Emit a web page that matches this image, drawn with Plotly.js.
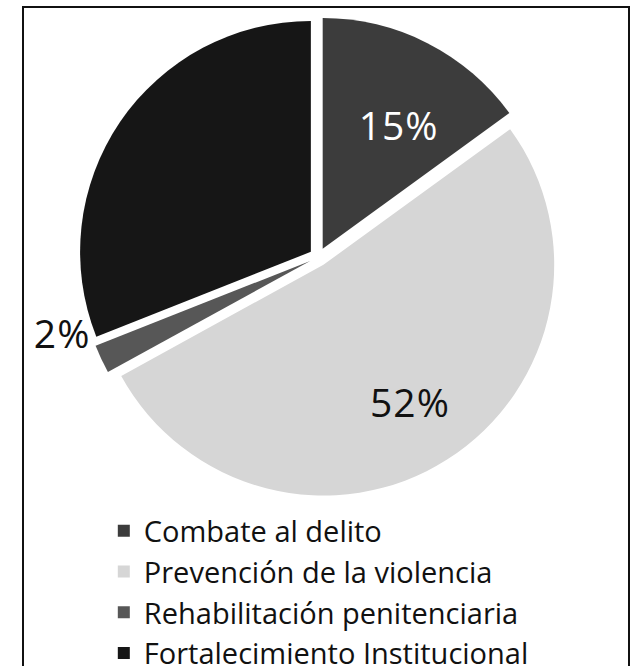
<!DOCTYPE html>
<html>
<head>
<meta charset="utf-8">
<script src="https://cdn.plot.ly/plotly-3.0.1.min.js"></script>
<style>
html,body{margin:0;padding:0;background:#fff;}
#chart{width:633px;height:666px;}
#chart text.slicetext{letter-spacing:1px;}
</style>
</head>
<body>
<div id="chart"></div>
<script>
const categories = ["Combate al delito", "Prevención de la violencia", "Rehabilitación penitenciaria", "Fortalecimiento Institucional"];
const values = [15, 52, 2, 31];
const percentLabels = ["15%", "52%", "2%", ""];
const sliceColors = ["#3c3c3c", "#d6d6d6", "#575757", "#161616"];
const labelColors = ["#ffffff", "#111111", "#111111", "#111111"];

const FONT = "'Open Sans', Lato, sans-serif";
const pieDomain = {x: [0.124, 0.8823], y: [0.2538, 0.9745]};

function shiftDomain(d, dx, dy) {
  return {x: [d.x[0] + dx, d.x[1] + dx], y: [d.y[0] + dy, d.y[1] + dy]};
}

const slices = {
  type: "pie",
  labels: categories,
  values: values,
  textinfo: "none",
  sort: false,
  direction: "clockwise",
  rotation: 0,
  pull: 0.04,
  hoverinfo: "label+percent",
  marker: {colors: sliceColors, line: {width: 0}},
  domain: pieDomain,
  showlegend: true
};

// transparent overlays that only carry the percentage labels of chosen slices
function labelTrace(which, position, hole, domain) {
  return {
    type: "pie",
    labels: categories,
    values: values,
    text: percentLabels.map((t, i) => (which.includes(i) ? t : "")),
    textinfo: "text",
    textposition: position,
    insidetextorientation: "horizontal",
    textfont: {family: FONT, size: 39, color: labelColors},
    sort: false,
    direction: "clockwise",
    rotation: 0,
    pull: 0.04,
    hole: hole,
    hoverinfo: "skip",
    marker: {colors: values.map(() => "rgba(0,0,0,0)"), line: {width: 0}},
    domain: domain,
    showlegend: false
  };
}

const traces = [
  slices,
  labelTrace([1], "inside", 0.4, pieDomain),
  labelTrace([0], "inside", 0.4, shiftDomain(pieDomain, 0.004, -0.03)),
  labelTrace([2], "outside", 0, shiftDomain(pieDomain, -0.012, 0.055))
];

const layout = {
  width: 633,
  height: 666,
  margin: {l: 0, r: 0, t: 0, b: 0, autoexpand: false},
  paper_bgcolor: "#ffffff",
  font: {family: FONT, color: "#111111"},
  showlegend: true,
  legend: {
    x: 0.164, xanchor: "left",
    y: 0.241, yanchor: "top",
    font: {size: 29, color: "#111111"},
    bgcolor: "rgba(0,0,0,0)",
    tracegroupgap: 0,
    maxheight: 400
  },
  shapes: [{
    type: "rect", xref: "paper", yref: "paper",
    x0: 23/633, x1: 629/633, y0: -0.05, y1: 1 - 7/666,
    line: {color: "#111111", width: 2}, fillcolor: "rgba(0,0,0,0)"
  }]
};

Plotly.newPlot("chart", traces, layout, {displayModeBar: false, staticPlot: true});
</script>
</body>
</html>
